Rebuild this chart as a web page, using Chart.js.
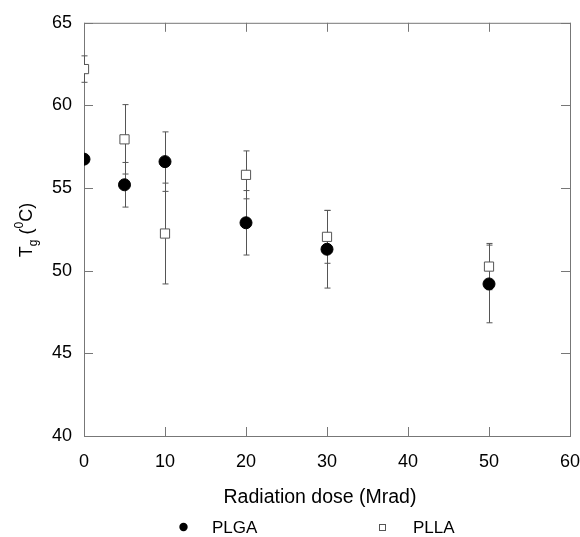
<!DOCTYPE html>
<html>
<head>
<meta charset="utf-8">
<script src="https://cdn.jsdelivr.net/npm/chart.js@4"></script>
<style>
html, body { margin: 0; padding: 0; background: #fff; }
</style>
</head>
<body>
<canvas id="myChart" width="580" height="537"></canvas>
<script>
// radiation dose (Mrad)
const doses = [0, 5, 10, 20, 30, 50];
// Tg values and error bars
const plga = [56.75, 55.2, 56.6, 52.9, 51.3, 49.2];
const plgaErr = [0, 1.35, 1.8, 1.95, 2.35, 2.35];
const plla = [62.2, 57.95, 52.25, 55.8, 52.05, 50.25];
const pllaErr = [0.8, 2.1, 3.05, 1.45, 1.6, 1.4];
const xTicks = [0, 10, 20, 30, 40, 50, 60];
const yTicks = [40, 45, 50, 55, 60, 65];
const xTitle = 'Radiation dose (Mrad)';

const FONT = 'Arial, "Liberation Sans", sans-serif';

// box + inward ticks on all four sides
const frame = {
  id: 'frame',
  beforeDatasetsDraw(chart) {
    const { ctx, chartArea: a, scales: { x, y } } = chart;
    ctx.save();
    ctx.strokeStyle = '#777';
    ctx.lineWidth = 1;
    ctx.strokeRect(a.left + 0.5, a.top + 0.5, a.right - a.left, a.bottom - a.top);
    ctx.beginPath();
    xTicks.forEach(v => {
      const px = Math.round(x.getPixelForValue(v)) + 0.5;
      ctx.moveTo(px, a.bottom); ctx.lineTo(px, a.bottom - 9);
      ctx.moveTo(px, a.top); ctx.lineTo(px, a.top + 9);
    });
    yTicks.forEach(v => {
      const py = Math.round(y.getPixelForValue(v)) + 0.5;
      ctx.moveTo(a.left, py); ctx.lineTo(a.left + 9, py);
      ctx.moveTo(a.right, py); ctx.lineTo(a.right - 9, py);
    });
    ctx.stroke();
    ctx.restore();
  }
};

const errorBars = {
  id: 'errorBars',
  beforeDatasetsDraw(chart) {
    const { ctx, scales: { x, y } } = chart;
    ctx.save();
    ctx.strokeStyle = '#555';
    ctx.lineWidth = 1;
    chart.data.datasets.forEach(ds => {
      ds.errors.forEach((e, i) => {
        if (!e) return;
        const p = ds.data[i];
        const px = Math.round(x.getPixelForValue(p.x)) + 0.5;
        const top = y.getPixelForValue(p.y + e);
        const bot = y.getPixelForValue(p.y - e);
        ctx.beginPath();
        ctx.moveTo(px, top); ctx.lineTo(px, bot);
        ctx.moveTo(px - 3, top); ctx.lineTo(px + 3, top);
        ctx.moveTo(px - 3, bot); ctx.lineTo(px + 3, bot);
        ctx.stroke();
      });
    });
    ctx.restore();
  }
};

// axis titles (y one has sub/superscript) and the legend row
const extras = {
  id: 'extras',
  afterDraw(chart) {
    const { ctx } = chart;
    ctx.save();
    ctx.fillStyle = '#000';
    ctx.textBaseline = 'alphabetic';
    const big = '18px ' + FONT, small = '12px ' + FONT;
    const parts = [
      { t: 'T', f: big, dy: 0 },
      { t: 'g', f: small, dy: 5 },
      { t: ' (', f: big, dy: 0 },
      { t: '0', f: small, dy: -9 },
      { t: 'C)', f: big, dy: 0 }
    ];
    let w = 0;
    parts.forEach(p => { ctx.font = p.f; p.w = ctx.measureText(p.t).width; w += p.w; });
    ctx.translate(32, 230);
    ctx.rotate(-Math.PI / 2);
    let cx = -w / 2;
    parts.forEach(p => { ctx.font = p.f; ctx.fillText(p.t, cx, p.dy); cx += p.w; });
    ctx.restore();

    ctx.save();
    ctx.fillStyle = '#000';
    ctx.textBaseline = 'middle';
    ctx.textAlign = 'center';
    ctx.font = '19.5px ' + FONT;
    ctx.fillText(xTitle, 320, 498);
    ctx.textAlign = 'left';
    ctx.font = '17px ' + FONT;
    ctx.beginPath();
    ctx.arc(183.5, 527, 4.2, 0, Math.PI * 2);
    ctx.fill();
    ctx.fillText(chart.data.datasets[0].label, 212, 528);
    ctx.strokeStyle = '#555';
    ctx.strokeRect(379.5, 524.5, 6, 6);
    ctx.fillText(chart.data.datasets[1].label, 413, 528);
    ctx.restore();
  }
};

const ctx = document.getElementById('myChart').getContext('2d');
new Chart(ctx, {
  type: 'scatter',
  data: {
    datasets: [{
      label: 'PLGA',
      data: doses.map((d, i) => ({ x: d, y: plga[i] })),
      errors: plgaErr,
      pointStyle: 'circle',
      pointRadius: 6,
      backgroundColor: '#000',
      borderColor: '#000'
    }, {
      label: 'PLLA',
      data: doses.map((d, i) => ({ x: d, y: plla[i] })),
      errors: pllaErr,
      pointStyle: 'rect',
      pointRadius: 6.5,
      backgroundColor: '#fff',
      borderColor: '#555',
      borderWidth: 1
    }]
  },
  options: {
    responsive: false,
    animation: false,
    layout: { padding: { left: 0, right: 0, top: 21, bottom: 0 } },
    scales: {
      x: {
        type: 'linear',
        min: 0,
        max: 60,
        afterFit: s => { s.height = 101; s.paddingLeft = 0; s.paddingRight = 10; },
        afterBuildTicks: s => { s.ticks = xTicks.map(v => ({ value: v })); },
        ticks: { font: { size: 18, family: FONT }, color: '#000', padding: 15, maxRotation: 0 },
        grid: { display: false, drawTicks: false },
        border: { display: false }
      },
      y: {
        min: 40,
        max: 65,
        afterFit: s => { s.width = 84; },
        afterBuildTicks: s => { s.ticks = yTicks.map(v => ({ value: v })); },
        ticks: { font: { size: 18, family: FONT }, color: '#000', padding: 12 },
        grid: { display: false, drawTicks: false },
        border: { display: false }
      }
    },
    plugins: {
      legend: { display: false },
      tooltip: { enabled: false }
    }
  },
  plugins: [frame, errorBars, extras]
});
</script>
</body>
</html>
